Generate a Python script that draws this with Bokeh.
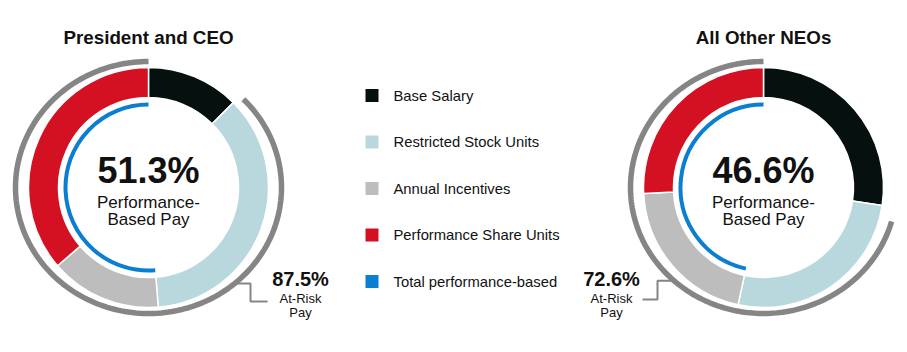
import math
from bokeh.plotting import figure
from bokeh.models import Range1d, ColumnDataSource
from bokeh.core.properties import value
from bokeh.embed import file_html
from bokeh.resources import INLINE

# ---------------- data ----------------
components = ["Base Salary", "Restricted Stock Units", "Annual Incentives", "Performance Share Units"]
legend_labels = ["Base Salary", "Restricted Stock Units", "Annual Incentives",
                 "Performance Share Units", "Total performance-based"]
chart_titles = ["President and CEO", "All Other NEOs"]
ceo_mix = [12.5, 36.2, 15.0, 36.3]
neo_mix = [27.4, 26.0, 20.8, 25.8]
performance_based = [51.3, 46.6]
at_risk = [87.5, 72.6]

# ---------------- style ----------------
W, H = 907, 352
seg_colors = ["#06100e", "#b8d8de", "#bdbdbd", "#d31122"]
blue = "#0a7fd2"
arc_gray = "#858585"
FONT = value("Liberation Sans")

centers = [(148, 187), (763, 187)]       # pixel coords (y down)
R_OUT, R_IN, R_BLUE = 120, 90, 83
RX, RY = 133, 126                          # outer at-risk arc
arc_gap_deg = [0.5, 7.0]
callout_angle = [139.6, 222.2]
callout_elbow = [(250, 301, 267), (657, 299, 642)]
callout_text_x = [300, 611]


def Y(py):
    return H - py


p = figure(width=W, height=H, output_backend="svg", toolbar_location=None,
           x_range=Range1d(0, W), y_range=Range1d(0, H),
           x_axis_type=None, y_axis_type=None, min_border=0)
p.outline_line_color = None
p.grid.visible = False
p.background_fill_color = "white"
p.border_fill_color = "white"

mixes = [ceo_mix, neo_mix]
for i, mix in enumerate(mixes):
    cx, cy = centers[i]
    # segments, clockwise from 12 o'clock
    starts, ends = [], []
    c = 0.0
    for v in mix:
        starts.append(math.pi / 2 - 2 * math.pi * c / 100)
        c += v
        ends.append(math.pi / 2 - 2 * math.pi * c / 100)
    src = ColumnDataSource(dict(x=[cx] * len(mix), y=[Y(cy)] * len(mix),
                                s=starts, e=ends, color=seg_colors, name=components))
    p.annular_wedge(x="x", y="y", inner_radius=R_IN, outer_radius=R_OUT,
                    start_angle="s", end_angle="e", direction="clock",
                    fill_color="color", line_color="white", line_width=1.5, source=src)

    # blue performance-based arc (counter-clockwise from top)
    p.arc(x=cx, y=Y(cy), radius=R_BLUE, start_angle=math.pi / 2,
          end_angle=math.pi / 2 + 2 * math.pi * performance_based[i] / 100,
          direction="anticlock", line_color=blue, line_width=4)

    # outer gray at-risk arc (from end of base salary clockwise to top)
    t0 = 360 * (100 - at_risk[i]) / 100 + arc_gap_deg[i]
    n = 200
    xs, ys = [], []
    for k in range(n + 1):
        t = math.radians(t0 + (360 - t0) * k / n)
        xs.append(cx + RX * math.sin(t))
        ys.append(Y(cy - RY * math.cos(t)))
    p.line(xs, ys, line_color=arc_gray, line_width=5.5, line_cap="butt")

    # callout connector
    ta = math.radians(callout_angle[i])
    x0 = cx + RX * math.sin(ta)
    y0 = cy - RY * math.cos(ta)
    ex, ey, ex2 = callout_elbow[i]
    p.line([x0, ex, ex, ex2], [Y(y0), Y(y0), Y(ey), Y(ey)],
           line_color=arc_gray, line_width=2)

    # callout text
    tx = callout_text_x[i]
    p.text(x=[tx], y=[Y(278)], text=[f"{at_risk[i]}%"], text_font=FONT,
           text_font_style="bold", text_font_size="20px", text_align="center",
           text_baseline="middle", text_color="#111111")
    p.text(x=[tx, tx], y=[Y(297.5), Y(312)], text=["At-Risk", "Pay"], text_font=FONT,
           text_font_size="13px", text_align="center", text_baseline="middle",
           text_color="#111111")

    # center text
    p.text(x=[cx], y=[Y(170)], text=[f"{performance_based[i]}%"], text_font=FONT,
           text_font_style="bold", text_font_size="36px", text_align="center",
           text_baseline="middle", text_color="#111111")
    p.text(x=[cx, cx], y=[Y(202), Y(219)], text=["Performance-", "Based Pay"],
           text_font=FONT, text_font_size="17px", text_align="center",
           text_baseline="middle", text_color="#111111")

    # title
    p.text(x=[cx], y=[Y(37)], text=[chart_titles[i]], text_font=FONT,
           text_font_style="bold", text_font_size="18.8px", text_align="center",
           text_baseline="middle", text_color="#111111")

# legend
leg_colors = seg_colors + [blue]
leg_y = [95, 141.5, 188, 234.5, 281]
p.rect(x=[371.5] * 5, y=[Y(v) for v in leg_y], width=13, height=13,
       fill_color=leg_colors, line_color=None)
p.text(x=[393] * 5, y=[Y(v) for v in leg_y], text=legend_labels, text_font=FONT,
       text_font_size="14.8px", text_align="left", text_baseline="middle",
       text_color="#111111")

open("out.html", "w").write(file_html(p, INLINE))
